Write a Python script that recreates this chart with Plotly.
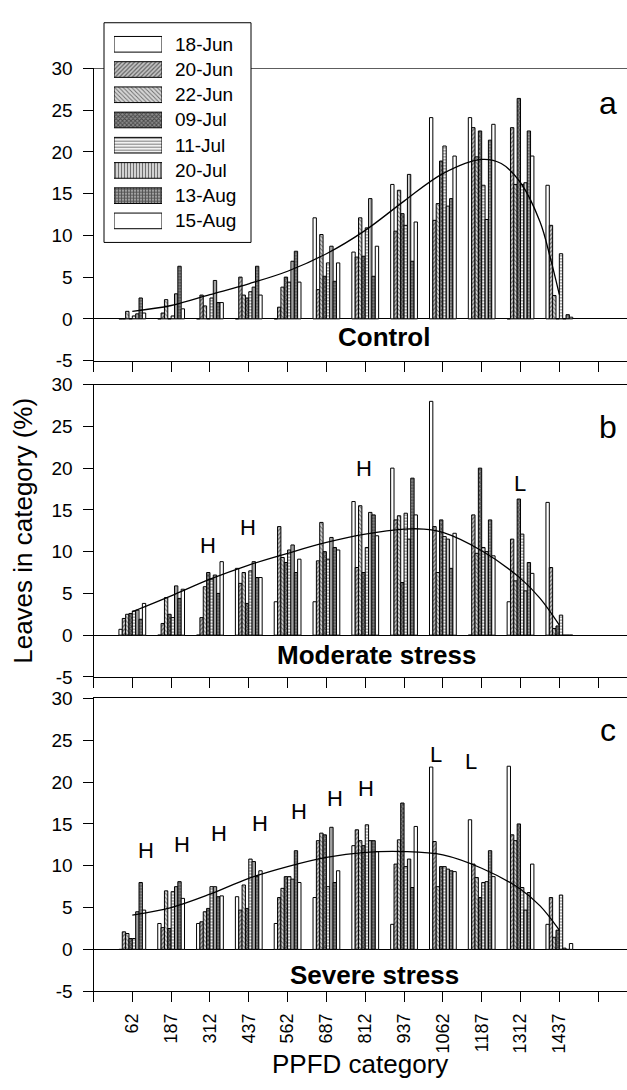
import plotly.graph_objects as go

# PPFD category midpoints (x axis) and sampling dates (bar series)
ppfd = [62, 187, 312, 437, 562, 687, 812, 937, 1062, 1187, 1312, 1437]
ppfd_labels = [str(v) for v in ppfd]
dates = ["18-Jun", "20-Jun", "22-Jun", "09-Jul", "11-Jul", "20-Jul", "13-Aug", "15-Aug"]
y_ticks = [-5, 0, 5, 10, 15, 20, 25, 30]
y_tick_labels = ["-5", "0", "5", "10", "15", "20", "25", "30"]

# Leaves in category (%) - one row per PPFD category, one column per date
control = [
    [0.0, 0.0, 0.9, 0.0, 0.35, 0.6, 2.5, 0.7],
    [0.0, 0.7, 2.3, 0.0, 0.35, 3.0, 6.3, 1.2],
    [0.0, 2.85, 1.55, 0.0, 2.5, 4.6, 1.95, 1.95],
    [0.0, 5.0, 2.85, 2.5, 3.25, 3.8, 6.3, 2.85],
    [0.0, 1.4, 3.8, 5.0, 4.4, 6.9, 8.1, 4.4],
    [12.1, 3.5, 10.1, 5.1, 6.7, 8.7, 4.5, 6.7],
    [8.0, 7.4, 12.1, 7.5, 10.9, 14.4, 5.1, 8.7],
    [16.1, 10.5, 15.4, 12.6, 11.2, 17.3, 6.9, 11.6],
    [24.1, 11.8, 13.8, 18.9, 20.7, 13.5, 14.4, 19.5],
    [24.1, 22.9, 19.4, 22.5, 16.0, 11.9, 21.4, 23.3],
    [0.0, 22.9, 16.1, 26.4, 16.1, 16.3, 22.5, 19.5],
    [16.0, 11.2, 2.8, 0.0, 7.8, 0.0, 0.5, 0.2],
]
moderate = [
    [0.7, 2.0, 2.5, 2.6, 2.9, 3.0, 1.9, 3.8],
    [0.0, 1.4, 4.5, 2.5, 2.1, 5.9, 4.4, 5.5],
    [0.0, 2.1, 5.8, 7.5, 6.7, 7.2, 5.0, 8.8],
    [8.0, 6.2, 7.5, 3.8, 7.7, 8.8, 6.9, 6.9],
    [4.0, 13.0, 9.3, 8.7, 10.2, 10.8, 7.5, 9.1],
    [4.0, 8.9, 13.5, 10.0, 9.1, 11.7, 10.5, 10.2],
    [16.0, 8.1, 15.5, 7.5, 10.5, 14.7, 14.4, 11.9],
    [20.0, 13.8, 14.3, 6.3, 14.6, 11.5, 18.8, 14.4],
    [28.0, 13.0, 7.5, 13.8, 11.8, 11.5, 8.0, 12.2],
    [0.0, 14.4, 9.8, 20.0, 10.5, 10.0, 13.8, 9.5],
    [4.0, 11.5, 6.5, 16.3, 12.1, 5.3, 8.7, 7.4],
    [15.9, 8.1, 0.8, 1.1, 2.4, 0.0, 0.0, 0.0],
]
severe = [
    [0.0, 2.1, 1.9, 1.3, 1.3, 4.5, 8.0, 4.7],
    [3.1, 2.6, 7.0, 2.5, 6.9, 7.5, 8.1, 6.1],
    [3.1, 3.3, 4.5, 4.9, 7.5, 7.5, 6.3, 6.4],
    [6.3, 4.7, 7.7, 4.9, 10.8, 10.5, 8.7, 9.4],
    [3.1, 6.2, 7.3, 8.7, 8.7, 8.4, 11.8, 8.0],
    [6.2, 13.0, 13.9, 13.7, 7.5, 14.6, 8.0, 9.4],
    [12.4, 14.3, 13.0, 12.4, 14.9, 13.0, 13.0, 11.7],
    [3.0, 10.2, 13.1, 17.5, 9.9, 10.8, 7.4, 14.7],
    [21.8, 12.9, 7.5, 9.9, 9.9, 9.6, 9.4, 9.3],
    [15.5, 10.2, 8.6, 6.2, 8.0, 8.1, 11.8, 8.7],
    [21.9, 13.7, 13.0, 15.0, 7.4, 4.7, 6.8, 10.2],
    [3.0, 6.2, 1.45, 2.3, 6.5, 0.15, 0.0, 0.7],
]

# Fitted trend curves
fit_x_control = [62, 187, 312, 437, 562, 687, 812, 937, 1062, 1187, 1250, 1312, 1375, 1408, 1437]
fit_y_control = [0.9, 1.6, 2.9, 4.2, 5.7, 7.8, 10.6, 14.1, 17.4, 19.1, 18.6, 16.3, 11.6, 7.3, 2.9]
fit_x_moderate = [62, 187, 312, 437, 562, 687, 812, 937, 1000, 1062, 1187, 1312, 1375, 1437]
fit_y_moderate = [2.8, 4.7, 6.7, 8.4, 9.8, 11.1, 12.1, 12.7, 12.7, 12.3, 10.1, 6.8, 4.4, 1.2]
fit_x_severe = [62, 187, 312, 437, 562, 687, 812, 937, 1062, 1187, 1312, 1375, 1437]
fit_y_severe = [4.1, 5.0, 6.6, 8.5, 9.9, 11.0, 11.6, 11.7, 11.3, 9.7, 7.2, 5.2, 2.3]

# Significance letters: (x, y, text)
marks_moderate = [(306, 10.7, "H"), (435, 12.9, "H"), (808, 20.0, "H"), (1311, 18.2, "L")]
marks_severe = [(106, 11.8, "H"), (222, 12.6, "H"), (341, 13.8, "H"), (473, 15.1, "H"),
                (599, 16.5, "H"), (715, 18.0, "H"), (815, 19.2, "H"),
                (1040, 23.3, "L"), (1153, 22.5, "L")]

FONT = "Liberation Sans, Arial, Helvetica, sans-serif"
W, H = 627, 1090

# Fill tone and overlay pattern per date
fills = ["white", "#c4c4c4", "#d6d6d6", "#8c8c8c", "white", "#dedede", "#a0a0a0", "white"]
patterns = [
    dict(shape=""),
    dict(shape="/", size=3, solidity=0.4),
    dict(shape="\\", size=3, solidity=0.3),
    dict(shape="x", size=3, solidity=0.5),
    dict(shape="-", size=3, solidity=0.4),
    dict(shape="|", size=3, solidity=0.4),
    dict(shape="+", size=3, solidity=0.5),
    dict(shape=""),
]
for p in patterns:
    p.update(fgcolor="black", fillmode="overlay")

fig = go.Figure()

panels = [
    ("x", "y", control, fit_x_control, fit_y_control),
    ("x2", "y2", moderate, fit_x_moderate, fit_y_moderate),
    ("x3", "y3", severe, fit_x_severe, fit_y_severe),
]
for xa, ya, table, fx, fy in panels:
    for j, d in enumerate(dates):
        fig.add_trace(go.Bar(
            x=ppfd, y=[row[j] for row in table], name=d,
            xaxis=xa, yaxis=ya,
            marker=dict(color=fills[j], pattern=patterns[j],
                        line=dict(color="black", width=1)),
            showlegend=False,
        ))
    fig.add_trace(go.Scatter(
        x=fx, y=fy, mode="lines", xaxis=xa, yaxis=ya,
        line=dict(color="black", width=1.3, shape="spline", smoothing=1.0),
        showlegend=False, hoverinfo="skip",
    ))

# Legend drawn as a small bar subplot with large pattern swatches
for j, d in enumerate(dates):
    fig.add_trace(go.Bar(
        x=[1], y=[j], base=0, orientation="h", width=0.62, offset=-0.31,
        xaxis="x4", yaxis="y4",
        marker=dict(color=fills[j], pattern=patterns[j],
                    line=dict(color="black", width=1)),
        showlegend=False, hoverinfo="skip",
    ))

px = lambda v: v / W
py = lambda v: 1 - v / H

x_dom = [px(93.5), 1.0]
x_range = [-63, -63 + (W - 93.5) / 0.31056]
tick_vals = [-63] + ppfd + [1562]
tick_text = [""] + ppfd_labels + [""]

def xaxis(show_labels, mirror):
    return dict(
        domain=x_dom, range=x_range, tickmode="array", tickvals=tick_vals,
        ticktext=tick_text, ticks="outside", ticklen=10, tickwidth=1,
        tickcolor="black", showline=True, linecolor="black", linewidth=1,
        mirror=mirror, showgrid=False, zeroline=False, tickangle=-90,
        showticklabels=show_labels, ticklabelstandoff=4,
        tickfont=dict(family=FONT, size=18, color="black"),
    )

def yaxis(dom, anchor):
    return dict(
        domain=dom, range=[-5, 30], tickmode="array",
        tickvals=y_ticks, ticktext=y_tick_labels, ticks="outside", ticklen=10,
        tickwidth=1, tickcolor="black", showline=True, linecolor="black",
        linewidth=1, showgrid=False, zeroline=True, zerolinecolor="black",
        zerolinewidth=1, anchor=anchor, ticklabelstandoff=6,
        tickfont=dict(family=FONT, size=19, color="black"),
    )

dom_a = [py(357.5), py(59.5)]
dom_b = [py(680), py(382)]
dom_c = [py(1000.5), py(702)]

leg_left, leg_right, leg_top, leg_bottom = 104, 251, 13, 237

fig.update_layout(
    width=W, height=H,
    margin=dict(l=0, r=0, t=0, b=0),
    paper_bgcolor="white", plot_bgcolor="rgba(0,0,0,0)",
    barmode="group", bargap=0.31, bargroupgap=0,
    showlegend=False,
    font=dict(family=FONT, color="black"),
    xaxis=dict(xaxis(False, False), anchor="y"),
    xaxis2=dict(xaxis(False, True), anchor="y2"),
    xaxis3=dict(xaxis(True, True), anchor="y3"),
    yaxis=yaxis(dom_a, "x"),
    yaxis2=yaxis(dom_b, "x2"),
    yaxis3=yaxis(dom_c, "x3"),
    xaxis4=dict(domain=[px(114), px(162)], range=[0, 1], visible=False, anchor="y4"),
    yaxis4=dict(domain=[py(227.9), py(22.1)], range=[7.5, -0.5], visible=False, anchor="x4"),
)

shapes = [
    # legend frame
    dict(type="rect", xref="paper", yref="paper",
         x0=px(leg_left), x1=px(leg_right), y0=py(leg_bottom), y1=py(leg_top),
         fillcolor="white", line=dict(color="black", width=1), layer="below"),
    # top frame of panel a, interrupted by the legend
    dict(type="line", xref="paper", yref="y", x0=x_dom[0], x1=px(leg_left), y0=30, y1=30,
         line=dict(color="black", width=1)),
    dict(type="line", xref="paper", yref="y", x0=px(leg_right), x1=1, y0=30, y1=30,
         line=dict(color="black", width=1)),
]
fig.update_layout(shapes=shapes)

ann = []
for j, d in enumerate(dates):
    ann.append(dict(text=d, xref="paper", yref="y4", x=px(173), y=j,
                    xanchor="left", yanchor="middle", showarrow=False,
                    font=dict(family=FONT, size=19, color="black")))

for xa, ya, letter, yv in [("x", "y", "a", 25.8), ("x2", "y2", "b", 24.9), ("x3", "y3", "c", 26.2)]:
    ann.append(dict(text=letter, xref=xa, yref=ya, x=1594, y=yv, showarrow=False,
                    font=dict(family=FONT, size=32, color="black")))

for xa, ya, label, xv, yv in [("x", "y", "Control", 873, -2.2),
                              ("x2", "y2", "Moderate stress", 847, -2.35),
                              ("x3", "y3", "Severe stress", 843, -3.05)]:
    ann.append(dict(text="<b>" + label + "</b>", xref=xa, yref=ya, x=xv, y=yv,
                    showarrow=False, font=dict(family=FONT, size=26, color="black")))

for xa, ya, marks in [("x2", "y2", marks_moderate), ("x3", "y3", marks_severe)]:
    for xv, yv, t in marks:
        ann.append(dict(text=t, xref=xa, yref=ya, x=xv, y=yv, showarrow=False,
                        font=dict(family=FONT, size=22, color="black")))

ann.append(dict(text="Leaves in category (%)", xref="paper", yref="paper",
                x=px(23), y=py(531), textangle=-90, showarrow=False,
                xanchor="center", yanchor="middle",
                font=dict(family=FONT, size=26, color="black")))
ann.append(dict(text="PPFD category", xref="paper", yref="paper",
                x=(x_dom[0] + x_dom[1]) / 2, y=py(1075), showarrow=False,
                xanchor="center", yanchor="middle",
                font=dict(family=FONT, size=26, color="black")))

fig.update_layout(annotations=ann)

fig.write_html("out.html")
